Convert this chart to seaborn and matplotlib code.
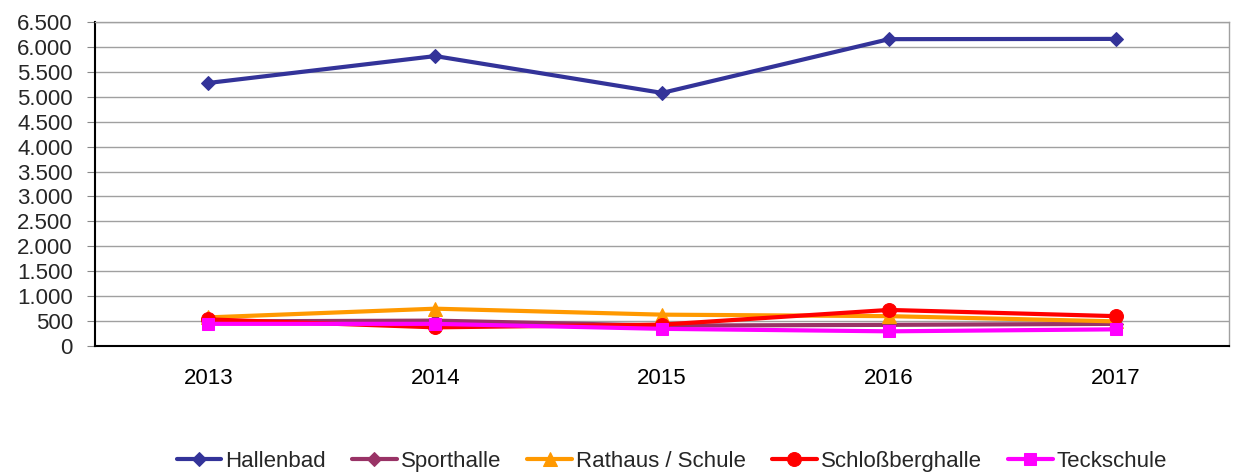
import matplotlib
matplotlib.use("Agg")
import matplotlib.pyplot as plt
import matplotlib.ticker as mticker
import pandas as pd
import seaborn as sns

years = [2013, 2014, 2015, 2016, 2017]
series_names = ["Hallenbad", "Sporthalle", "Rathaus / Schule", "Schloßberghalle", "Teckschule"]
hallenbad = [5280, 5820, 5080, 6160, 6165]
sporthalle = [490, 505, 405, 420, 440]
rathaus = [570, 745, 625, 595, 490]
schlossberg = [530, 370, 425, 720, 595]
teckschule = [440, 440, 340, 290, 330]

colors = ["#333399", "#993366", "#FF9900", "#FF0000", "#FF00FF"]
markers = ["D", "D", "^", "o", "s"]
msizes = [7, 7, 10, 10, 9]

sns.set_theme(style="white")
plt.rcParams["font.family"] = ["Liberation Sans", "DejaVu Sans"]

df = pd.DataFrame({
    "year": years * 5,
    "value": hallenbad + sporthalle + rathaus + schlossberg + teckschule,
    "series": [n for n in series_names for _ in years],
})

fig = plt.figure(figsize=(12.33, 4.73), dpi=100)
ax = fig.add_axes([0.077, 0.269, 0.92, 0.684])

for name, c, m, ms in zip(series_names, colors, markers, msizes):
    sub = df[df["series"] == name]
    sns.lineplot(data=sub, x="year", y="value", ax=ax, color=c, marker=m,
                 markersize=ms, markeredgecolor=c, linewidth=3, label=name)

ax.set_xlim(2012.5, 2017.5)
ax.set_ylim(0, 6500)
ax.yaxis.set_major_locator(mticker.MultipleLocator(500))
ax.yaxis.set_major_formatter(mticker.FuncFormatter(lambda v, p: f"{int(v):,}".replace(",", ".")))
ax.set_xticks(years)
ax.set_xticklabels([str(y) for y in years])
ax.set_xticks([2012.5 + i for i in range(6)], minor=True)
ax.tick_params(axis="x", which="major", length=0, pad=16, labelsize=16, colors="black")
ax.tick_params(axis="x", which="minor", length=6, width=0.8, color="#888888", direction="out")
ax.tick_params(axis="y", which="major", length=6, width=0.8, color="#888888", direction="out",
               labelsize=16, pad=10, left=True)
ax.set_xlabel("")
ax.set_ylabel("")
ax.grid(axis="y", color="#A0A0A0", linewidth=1)
ax.set_axisbelow(True)
for s in ["left", "bottom"]:
    ax.spines[s].set_color("black")
    ax.spines[s].set_linewidth(1.5)
for s in ["top", "right"]:
    ax.spines[s].set_color("#A0A0A0")
    ax.spines[s].set_linewidth(1)

ax.legend(loc="center", bbox_to_anchor=(0.545, 0.024), bbox_transform=fig.transFigure,
          ncol=5, frameon=False, fontsize=16, handlelength=2.0, handletextpad=0.2,
          columnspacing=1.17, borderpad=0)

fig.savefig("out.png", dpi=100)
